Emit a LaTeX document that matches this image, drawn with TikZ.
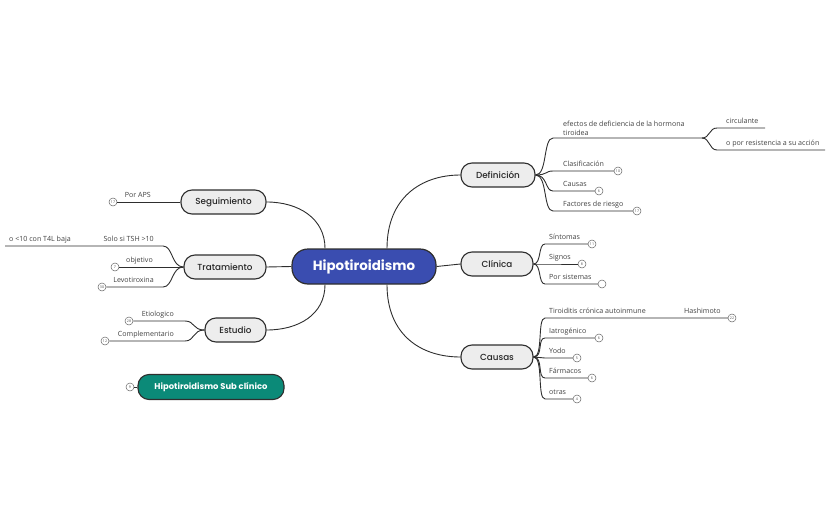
\documentclass[tikz,border=0pt]{standalone}
\usepackage{fontspec}
\setmainfont{Open Sans}
\newfontfamily\nodefont{Poppins}[UprightFont={* Medium},BoldFont={* Bold}]
\usetikzlibrary{calc}
\definecolor{lineC}{HTML}{2E2E2E}
\definecolor{topicF}{HTML}{EDEDED}
\definecolor{cenF}{HTML}{3A4DB0}
\definecolor{tealF}{HTML}{0B8A78}
\definecolor{labC}{HTML}{404040}
\tikzset{
  conn/.style={draw=lineC, line width=0.9pt},
  topic/.style={draw=lineC, line width=1.1pt, fill=topicF, rounded corners=11pt,
    minimum height=24pt, inner sep=0pt, font=\nodefont\fontsize{8.8}{10}\selectfont, text=black!85},
  central/.style={draw=lineC, line width=1.2pt, fill=cenF, rounded corners=16pt,
    minimum height=35pt, minimum width=144pt, inner sep=0pt,
    font=\nodefont\bfseries\fontsize{13.4}{15}\selectfont, text=white},
  subtopic/.style={draw=lineC, line width=1.1pt, fill=tealF, rounded corners=11pt,
    minimum height=25pt, minimum width=146pt, inner sep=0pt,
    font=\nodefont\bfseries\fontsize{8.4}{10}\selectfont, text=white},
  labR/.style={inner sep=0pt, anchor=base west, yshift=1.3pt, font=\fontsize{7.1}{8.5}\selectfont, text=labC},
  labL/.style={inner sep=0pt, anchor=base east, yshift=1.3pt, font=\fontsize{7.1}{8.5}\selectfont, text=labC},
  badge/.style={circle, draw=black!60, fill=white, line width=0.5pt, minimum size=8pt,
    inner sep=0pt, font=\fontsize{3.6}{4}\selectfont, text=black!70},
}
\begin{document}
\begin{tikzpicture}[x=1pt,y=-1pt]
\useasboundingbox (0,0) rectangle (830,514);

% main nodes
\node[central] (cen) at (364,266.5) {Hipotiroidismo};
\node[topic, minimum width=74pt] (def) at (498,175) {Definición};
\node[topic, minimum width=72pt] (cli) at (497,264) {Clínica};
\node[topic, minimum width=72pt] (cau) at (497,357) {Causas};
\node[topic, minimum width=85pt] (seg) at (223.5,202) {Seguimiento};
\node[topic, minimum width=82pt] (tra) at (225,267) {Tratamiento};
\node[topic, minimum width=61pt] (est) at (235.5,330) {Estudio};
\node[subtopic] (sub) at (211,387) {Hipotiroidismo Sub clínico};

% central connectors
\draw[conn] ([xshift=23pt]cen.north) .. controls +(0,-50) and +(-40,0) .. (def.west);
\draw[conn] ([xshift=23pt]cen.south) .. controls +(0,50) and +(-40,0) .. (cau.west);
\draw[conn] (cen.east) -- (cli.west);
\draw[conn] ([xshift=-39pt]cen.north) .. controls +(0,-30) and +(32,0) .. (seg.east);
\draw[conn] (cen.west) -- (tra.east);
\draw[conn] ([xshift=-39pt]cen.south) .. controls +(0,30) and +(32,0) .. (est.east);

% ---------- Definicion ----------
\coordinate (d1) at (553,138);
\coordinate (d1x) at (702,138);
\coordinate (d1a) at (717,128);
\coordinate (d1ae) at (765,128);
\coordinate (d1b) at (717,150);
\coordinate (d1be) at (825,150);
\coordinate (d2) at (553,171);
\coordinate (d3) at (553,191);
\coordinate (d4) at (553,211);
\node[badge] (bd2) at (618,171) {10};
\node[badge] (bd3) at (599,191) {6};
\node[badge] (bd4) at (637,211) {17};
\node[inner sep=0pt, anchor=south west, align=left, font=\fontsize{7.1}{9.5}\selectfont, text=labC] (ld1) at (563,136) {efectos de deficiencia de la hormona\\tiroidea};
\node[labR] (ld1a) at (726,124.5) {circulante};
\node[labR] (ld1b) at (726,146.5) {o por resistencia a su acción};
\node[labR] (ld2) at (563,167.5) {Clasificación};
\node[labR] (ld3) at (563,187.5) {Causas};
\node[labR] (ld4) at (563,207.5) {Factores de riesgo};
\draw[conn] (def.east) .. controls +(12,0) and +(-10,0) .. (d1) -- (d1x);
\draw[conn] (d1x) .. controls +(8,0) and +(-8,0) .. (d1a) -- (d1ae);
\draw[conn] (d1x) .. controls +(8,0) and +(-8,0) .. (d1b) -- (d1be);
\draw[conn] (def.east) .. controls +(12,0) and +(-8,0) .. (d2) -- (bd2.west);
\draw[conn] (def.east) .. controls +(12,0) and +(-8,0) .. (d3) -- (bd3.west);
\draw[conn] (def.east) .. controls +(12,0) and +(-10,0) .. (d4) -- (bd4.west);

% ---------- Clinica ----------
\coordinate (c1) at (545,244);
\coordinate (c2) at (545,264);
\coordinate (c3) at (545,284);
\node[badge] (bc1) at (592,244) {11};
\node[badge] (bc2) at (582,264) {8};
\node[badge] (bc3) at (602,284) {};
\node[labR] (lc1) at (549,240.5) {Síntomas};
\node[labR] (lc2) at (549,260.5) {Signos};
\node[labR] (lc3) at (549,280.5) {Por sistemas};
\draw[conn] (cli.east) .. controls +(8,0) and +(-7,0) .. (c1) -- (bc1.west);
\draw[conn] (cli.east) -- (c2) -- (bc2.west);
\draw[conn] (cli.east) .. controls +(8,0) and +(-7,0) .. (c3) -- (bc3.west);

% ---------- Causas ----------
\coordinate (k1) at (545,318);
\coordinate (k1x) at (655,318);
\coordinate (k1h) at (680,318);
\coordinate (k2) at (545,338);
\coordinate (k3) at (545,358);
\coordinate (k4) at (545,378);
\coordinate (k5) at (545,399);
\node[badge] (bk1) at (732,318) {22};
\node[badge] (bk2) at (599,338) {6};
\node[badge] (bk3) at (577,358) {5};
\node[badge] (bk4) at (592,378) {6};
\node[badge] (bk5) at (577,399) {4};
\node[labR] (lk1) at (549,314.5) {Tiroiditis crónica autoinmune};
\node[labR] (lk1h) at (684,314.5) {Hashimoto};
\node[labR] (lk2) at (549,334.5) {Iatrogénico};
\node[labR] (lk3) at (549,354.5) {Yodo};
\node[labR] (lk4) at (549,374.5) {Fármacos};
\node[labR] (lk5) at (549,395.5) {otras};
\draw[conn] (cau.east) .. controls +(10,0) and +(-8,0) .. (k1) -- (k1x) -- (k1h) -- (bk1.west);
\draw[conn] (cau.east) .. controls +(10,0) and +(-8,0) .. (k2) -- (bk2.west);
\draw[conn] (cau.east) -- (k3) -- (bk3.west);
\draw[conn] (cau.east) .. controls +(10,0) and +(-8,0) .. (k4) -- (bk4.west);
\draw[conn] (cau.east) .. controls +(10,0) and +(-8,0) .. (k5) -- (bk5.west);

% ---------- Seguimiento ----------
\node[badge] (bs1) at (113,202) {17};
\node[labL] (ls1) at (151,198.5) {Por APS};
\draw[conn] (seg.west) -- (bs1.east);

% ---------- Tratamiento ----------
\coordinate (t1) at (163,246);
\coordinate (t1x) at (100,246);
\coordinate (t1e) at (5,246);
\coordinate (t3) at (163,287);
\node[badge] (bt2) at (115,267) {7};
\node[badge] (bt3) at (102,287) {30};
\node[labL] (lt1) at (154,242.5) {Solo si TSH >10};
\node[labR] (lt1x) at (9,242.5) {o <10 con T4L baja};
\node[labL] (lt2) at (153,263.5) {objetivo};
\node[labL] (lt3) at (154,283.5) {Levotiroxina};
\draw[conn] (tra.west) .. controls +(-12,0) and +(10,0) .. (t1) -- (t1x) -- (t1e);
\draw[conn] (tra.west) -- (bt2.east);
\draw[conn] (tra.west) .. controls +(-12,0) and +(10,0) .. (t3) -- (bt3.east);

% ---------- Estudio ----------
\coordinate (e1) at (185,321);
\coordinate (e2) at (185,341);
\node[badge] (be1) at (129,321) {28};
\node[badge] (be2) at (105,341) {12};
\node[labL] (le1) at (174,317.5) {Etiologico};
\node[labL] (le2) at (174,337.5) {Complementario};
\draw[conn] (est.west) .. controls +(-12,0) and +(10,0) .. (e1) -- (be1.east);
\draw[conn] (est.west) .. controls +(-12,0) and +(10,0) .. (e2) -- (be2.east);

% ---------- Sub clinico ----------
\node[badge] (bsub) at (130,387) {9};
\draw[conn] (sub.west) -- (bsub.east);
\end{tikzpicture}
\end{document}
